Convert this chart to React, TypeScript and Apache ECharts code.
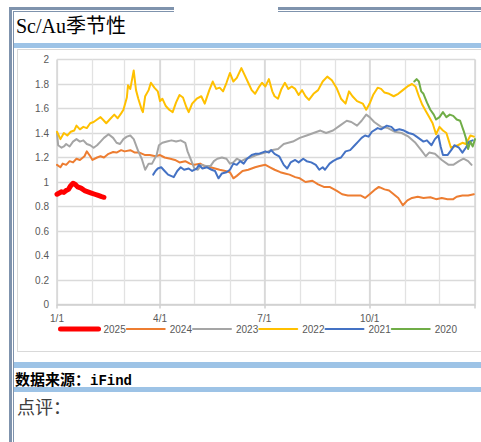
import React, { useEffect, useRef } from 'react';
import * as echarts from 'echarts';

// ---- data ----
const years = ['2025', '2024', '2023', '2022', '2021', '2020'];
const monthStartDays = [0, 31, 59, 90, 120, 151, 181, 212, 243, 273, 304, 334, 365];
const quarterDays = [0, 90, 181, 273];
const quarterLabels = ['1/1', '4/1', '7/1', '10/1'];

const s2025: [number, number][] = [
  [0, 0.9], [2, 0.91], [4, 0.92], [6, 0.915], [8, 0.93], [10, 0.94], [12, 0.97], [14, 0.99],
  [16, 0.98], [18, 0.96], [21, 0.95], [24, 0.93], [27, 0.92], [30, 0.91], [33, 0.9], [36, 0.89],
  [39, 0.88], [41, 0.875],
];

const s2024: [number, number][] = [
  [0, 1.14], [3, 1.12], [5, 1.15], [8, 1.14], [11, 1.17], [14, 1.16], [17, 1.19], [20, 1.18],
  [24, 1.21], [26, 1.25], [29, 1.21], [31, 1.18], [35, 1.2], [38, 1.21], [41, 1.2], [45, 1.23],
  [49, 1.245], [52, 1.24], [56, 1.26], [59, 1.25], [64, 1.26], [68, 1.24], [72, 1.24], [77, 1.22],
  [81, 1.22], [86, 1.21], [90, 1.22], [94, 1.2], [99, 1.19], [103, 1.18], [107, 1.16], [112, 1.17],
  [116, 1.15], [120, 1.14], [125, 1.15], [129, 1.13], [134, 1.12], [138, 1.11], [142, 1.1],
  [147, 1.09], [151, 1.08], [154, 1.03], [157, 1.05], [162, 1.09], [167, 1.1], [173, 1.12],
  [177, 1.13], [182, 1.14], [186, 1.12], [190, 1.1], [195, 1.08], [199, 1.07], [203, 1.06],
  [208, 1.04], [212, 1.03], [217, 1.0], [223, 1.01], [228, 0.98], [233, 0.96], [238, 0.96],
  [244, 0.93], [249, 0.9], [254, 0.89], [259, 0.89], [265, 0.89], [269, 0.87], [273, 0.9],
  [278, 0.94], [281, 0.96], [286, 0.94], [290, 0.93], [294, 0.9], [298, 0.87], [302, 0.81],
  [306, 0.85], [310, 0.87], [315, 0.88], [320, 0.87], [326, 0.875], [331, 0.86], [336, 0.87],
  [341, 0.86], [346, 0.86], [349, 0.88], [354, 0.89], [359, 0.89], [364, 0.9],
];

const s2023: [number, number][] = [
  [0, 1.4], [1, 1.3], [4, 1.28], [6, 1.29], [8, 1.31], [11, 1.29], [14, 1.33], [17, 1.35],
  [20, 1.33], [23, 1.34], [26, 1.31], [29, 1.3], [32, 1.28], [35, 1.3], [38, 1.33], [41, 1.36],
  [45, 1.39], [49, 1.36], [52, 1.32], [55, 1.31], [58, 1.35], [61, 1.37], [64, 1.38], [67, 1.35],
  [71, 1.25], [74, 1.19], [77, 1.1], [80, 1.15], [83, 1.15], [87, 1.22], [89, 1.3], [92, 1.32],
  [96, 1.33], [100, 1.34], [104, 1.33], [108, 1.34], [112, 1.32], [114, 1.25], [117, 1.18],
  [120, 1.11], [123, 1.1], [126, 1.14], [130, 1.13], [134, 1.13], [137, 1.17], [140, 1.19],
  [144, 1.2], [148, 1.19], [151, 1.15], [154, 1.16], [157, 1.19], [161, 1.17], [165, 1.19],
  [169, 1.2], [174, 1.22], [178, 1.23], [182, 1.24], [187, 1.26], [193, 1.27], [198, 1.31],
  [206, 1.33], [212, 1.36], [218, 1.38], [224, 1.4], [230, 1.42], [235, 1.4], [241, 1.42],
  [247, 1.46], [253, 1.5], [257, 1.49], [262, 1.46], [266, 1.5], [270, 1.55], [273, 1.53],
  [277, 1.49], [283, 1.45], [289, 1.44], [295, 1.41], [301, 1.4], [307, 1.37], [313, 1.32],
  [318, 1.26], [322, 1.21], [325, 1.24], [330, 1.23], [336, 1.18], [342, 1.14], [346, 1.14],
  [351, 1.17], [355, 1.19], [359, 1.17], [362, 1.14],
];

const s2022: [number, number][] = [
  [0, 1.41], [3, 1.35], [6, 1.4], [9, 1.38], [12, 1.41], [15, 1.42], [17, 1.46], [20, 1.43],
  [23, 1.45], [26, 1.44], [29, 1.48], [32, 1.49], [35, 1.51], [38, 1.53], [41, 1.5], [43, 1.48],
  [46, 1.51], [50, 1.55], [53, 1.52], [56, 1.56], [58, 1.59], [61, 1.69], [62, 1.79], [64, 1.76],
  [66, 1.86], [67, 1.91], [69, 1.75], [71, 1.68], [74, 1.59], [75, 1.57], [77, 1.7], [80, 1.75],
  [82, 1.81], [85, 1.77], [88, 1.74], [90, 1.66], [92, 1.68], [95, 1.62], [98, 1.59], [101, 1.57],
  [104, 1.65], [107, 1.71], [110, 1.69], [113, 1.61], [115, 1.57], [118, 1.64], [122, 1.68],
  [126, 1.7], [129, 1.64], [133, 1.75], [136, 1.82], [139, 1.76], [142, 1.77], [145, 1.74],
  [148, 1.81], [151, 1.89], [154, 1.82], [157, 1.85], [161, 1.93], [164, 1.87], [167, 1.81],
  [170, 1.75], [173, 1.72], [176, 1.77], [179, 1.81], [182, 1.78], [185, 1.84], [188, 1.74],
  [190, 1.7], [193, 1.68], [196, 1.76], [199, 1.81], [202, 1.76], [205, 1.78], [208, 1.76],
  [211, 1.71], [214, 1.75], [217, 1.7], [220, 1.67], [224, 1.72], [228, 1.75], [232, 1.82],
  [236, 1.86], [240, 1.83], [244, 1.77], [248, 1.68], [252, 1.64], [255, 1.74], [258, 1.7],
  [262, 1.66], [267, 1.64], [270, 1.59], [273, 1.64], [276, 1.71], [280, 1.77], [283, 1.76],
  [286, 1.73], [290, 1.72], [294, 1.7], [298, 1.72], [302, 1.75], [306, 1.78], [310, 1.8],
  [313, 1.78], [316, 1.7], [319, 1.63], [322, 1.58], [325, 1.53], [328, 1.48], [331, 1.39],
  [334, 1.45], [337, 1.42], [340, 1.4], [342, 1.34], [344, 1.28], [347, 1.29], [350, 1.3],
  [354, 1.32], [357, 1.31], [361, 1.38], [364, 1.37],
];

const s2021: [number, number][] = [
  [84, 1.06], [86, 1.09], [88, 1.11], [91, 1.12], [94, 1.09], [97, 1.06], [102, 1.04], [105, 1.09],
  [108, 1.12], [111, 1.1], [115, 1.11], [118, 1.09], [122, 1.11], [124, 1.14], [127, 1.11],
  [131, 1.12], [135, 1.1], [138, 1.09], [141, 1.03], [144, 1.07], [148, 1.08], [151, 1.1],
  [154, 1.15], [157, 1.14], [160, 1.17], [163, 1.15], [166, 1.19], [170, 1.22], [173, 1.23],
  [176, 1.23], [179, 1.24], [182, 1.25], [185, 1.24], [187, 1.26], [190, 1.23], [194, 1.21],
  [198, 1.14], [201, 1.11], [204, 1.16], [208, 1.18], [211, 1.16], [215, 1.19], [218, 1.17],
  [222, 1.16], [226, 1.14], [229, 1.1], [232, 1.12], [234, 1.1], [238, 1.15], [241, 1.17],
  [245, 1.19], [248, 1.2], [252, 1.25], [256, 1.26], [260, 1.3], [263, 1.33], [266, 1.36],
  [269, 1.38], [272, 1.37], [275, 1.41], [280, 1.44], [283, 1.43], [288, 1.46], [292, 1.45],
  [295, 1.42], [299, 1.43], [303, 1.42], [307, 1.4], [311, 1.39], [314, 1.37], [317, 1.35],
  [320, 1.33], [323, 1.34], [327, 1.3], [330, 1.35], [333, 1.38], [335, 1.29], [337, 1.22],
  [341, 1.22], [345, 1.27], [347, 1.3], [351, 1.28], [354, 1.24], [357, 1.28], [360, 1.33],
  [363, 1.34],
];

const s2020: [number, number][] = [
  [312, 1.82], [314, 1.84], [316, 1.82], [318, 1.74], [320, 1.72], [323, 1.65], [326, 1.59],
  [329, 1.55], [331, 1.51], [334, 1.53], [337, 1.57], [340, 1.53], [343, 1.55], [346, 1.54],
  [349, 1.51], [352, 1.5], [355, 1.42], [357, 1.36], [359, 1.27], [361, 1.33], [363, 1.29],
  [365, 1.35],
];

const seriesData = [s2025, s2024, s2023, s2022, s2021, s2020];
const colors = ['#FF0000', '#ED7D31', '#A5A5A5', '#FFC000', '#4472C4', '#70AD47'];

const slate = '#7f93ad';
const band = '#9dc3e6';
const axisFont = '"Liberation Sans", Arial, sans-serif';

function Chart() {
  const ref = useRef<HTMLDivElement>(null);
  useEffect(() => {
    if (!ref.current) return;
    const chart = echarts.init(ref.current, undefined, { renderer: 'svg' });
    const labelFmt = (v: number) => {
      const i = quarterDays.indexOf(Math.round(v));
      return i >= 0 ? quarterLabels[i] : '';
    };
    chart.setOption({
      animation: false,
      grid: { left: 39, right: 6, top: 9.5, bottom: 45.5 },
      legend: {
        left: 40,
        top: 274,
        padding: 0,
        itemWidth: 38,
        itemHeight: 10,
        itemGap: 0,
        textStyle: { fontSize: 10, color: '#595959', fontFamily: axisFont },
        data: years.map((y, i) => ({
          name: y,
          itemStyle: { opacity: 0 },
          lineStyle: { width: i === 0 ? 5 : 2, cap: 'round' },
        })),
      },
      xAxis: [
        {
          type: 'value',
          min: 0,
          max: 365,
          position: 'bottom',
          axisLine: { show: true, lineStyle: { color: '#d0d0d0', width: 1.5 } },
          axisTick: { show: false, customValues: monthStartDays },
          splitLine: { show: true, lineStyle: { color: '#e2e2e2', width: 1.3 } },
          axisLabel: {
            customValues: quarterDays,
            formatter: labelFmt,
            fontSize: 10,
            color: '#595959',
            fontFamily: axisFont,
            margin: 9,
          },
        },
        {
          type: 'value',
          min: 0,
          max: 365,
          position: 'bottom',
          axisLine: { show: false },
          axisTick: {
            show: true,
            customValues: [...quarterDays, 365],
            length: 4,
            lineStyle: { color: '#cfcfcf', width: 1.5 },
          },
          splitLine: { show: true, lineStyle: { color: '#d6d6d6', width: 1.5 } },
          axisLabel: { show: false },
        },
      ],
      yAxis: {
        type: 'value',
        min: 0,
        max: 2,
        interval: 0.2,
        axisLine: { show: false },
        axisTick: { show: false },
        splitLine: { show: true, lineStyle: { color: '#dadada', width: 1.3 } },
        axisLabel: { fontSize: 10, color: '#595959', fontFamily: axisFont, margin: 8 },
      },
      series: years.map((y, i) => ({
        name: y,
        type: 'line',
        xAxisIndex: 0,
        data: seriesData[i],
        symbol: 'none',
        showSymbol: false,
        color: colors[i],
        lineStyle: {
          color: colors[i],
          width: i === 0 ? 5 : 2,
          cap: 'round',
          join: 'round',
        },
      })),
    });
    return () => chart.dispose();
  }, []);
  return (
    <div
      ref={ref}
      style={{ position: 'absolute', left: 18, top: 50, width: 463, height: 300 }}
    />
  );
}

export default function App() {
  const abs = (s: React.CSSProperties): React.CSSProperties => ({ position: 'absolute', ...s });
  return (
    <div
      style={{
        position: 'fixed',
        left: 0,
        top: 0,
        width: 481,
        height: 442,
        overflow: 'hidden',
        background: '#fff',
      }}
    >
      <div style={abs({ left: 10, top: 7, width: 164, height: 3, background: slate })} />
      <div style={abs({ left: 13, top: 11, width: 161, height: 1, background: slate })} />
      <div style={abs({ left: 278, top: 7, width: 203, height: 3, background: slate })} />
      <div style={abs({ left: 278, top: 11, width: 203, height: 1, background: slate })} />
      <div style={abs({ left: 9, top: 7, width: 3, height: 435, background: slate })} />
      <div style={abs({ left: 13, top: 11, width: 1, height: 431, background: slate })} />
      <div
        style={abs({
          left: 16,
          top: 15,
          height: 22,
          lineHeight: '22px',
          fontSize: 20,
          fontFamily: '"Liberation Serif", "Noto Sans CJK SC", serif',
          color: '#000',
          whiteSpace: 'nowrap',
        })}
      >
        Sc/Au季节性
      </div>
      <div style={abs({ left: 14, top: 43, width: 467, height: 5, background: band })} />
      <div
        style={abs({
          left: 17,
          top: 49,
          width: 470,
          height: 303,
          border: '1px solid #d9d9d9',
          boxSizing: 'border-box',
        })}
      />
      <Chart />
      <div style={abs({ left: 14, top: 362, width: 467, height: 6, background: band })} />
      <div
        style={abs({
          left: 15,
          top: 370,
          height: 18,
          lineHeight: '18px',
          fontSize: 15,
          fontWeight: 'bold',
          fontFamily: '"Noto Sans CJK SC", sans-serif',
          color: '#000',
          whiteSpace: 'nowrap',
        })}
      >
        数据来源：<span style={{ fontFamily: '"Liberation Mono", monospace', fontSize: 14 }}>iFind</span>
      </div>
      <div style={abs({ left: 14, top: 387, width: 467, height: 5, background: band })} />
      <div
        style={abs({
          left: 17,
          top: 395,
          height: 22,
          lineHeight: '22px',
          fontSize: 18,
          fontFamily: '"Noto Sans CJK SC", sans-serif',
          color: '#404040',
          whiteSpace: 'nowrap',
        })}
      >
        点评：
      </div>
    </div>
  );
}
